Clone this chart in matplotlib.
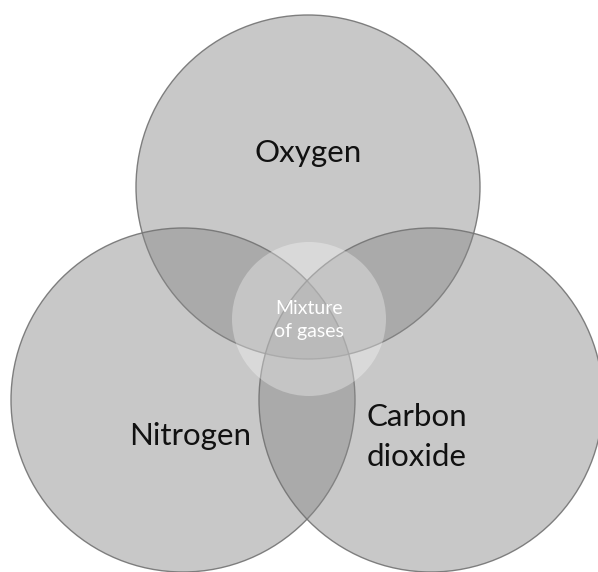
import matplotlib
matplotlib.use("Agg")
import matplotlib.pyplot as plt
from matplotlib.patches import Circle

# Venn sets (pixel-space layout of the reference)
set_names = ["Oxygen", "Nitrogen", "Carbon\ndioxide"]
set_cx = [308, 183, 431]
set_cy = [187, 400, 400]
set_r = [172, 172, 172]
label_x = [308, 190, 367]
label_y = [153, 436, 437]
label_ha = ["center", "center", "left"]
center_name = "Mixture\nof gases"
center_cx, center_cy, center_r = 309, 319, 77

W, H = 598, 572
fig = plt.figure(figsize=(W / 100, H / 100), dpi=100)
ax = fig.add_axes([0, 0, 1, 1])
ax.set_xlim(0, W)
ax.set_ylim(H, 0)
ax.set_aspect("equal")
ax.axis("off")

for cx, cy, r in zip(set_cx, set_cy, set_r):
    ax.add_patch(Circle((cx, cy), r, facecolor=(0.53, 0.53, 0.53, 0.45),
                        edgecolor=(0.45, 0.45, 0.45, 0.9), linewidth=1.0))

ax.add_patch(Circle((center_cx, center_cy), center_r,
                    facecolor=(1, 1, 1, 0.32), edgecolor="none"))

for name, x, y, ha in zip(set_names, label_x, label_y, label_ha):
    ax.text(x, y, name, ha=ha, va="center", fontsize=22.5, color="#111111",
            family=["Lato", "DejaVu Sans"], linespacing=1.5)

ax.text(center_cx, center_cy + 1, center_name, ha="center", va="center",
        fontsize=14, color="white", family=["Lato", "DejaVu Sans"],
        linespacing=1.45)

fig.savefig("out.png", dpi=100)
